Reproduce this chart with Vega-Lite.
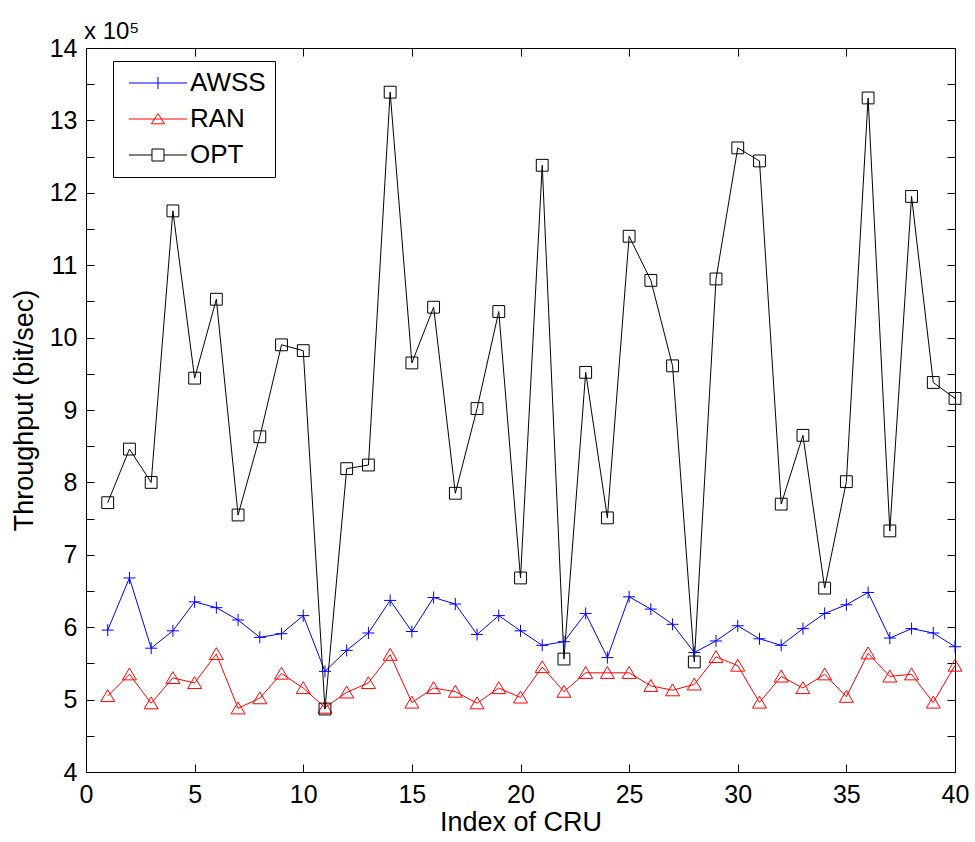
{
  "$schema": "https://vega.github.io/schema/vega-lite/v6.json",
  "width": 869,
  "height": 724,
  "autosize": "none",
  "padding": {"left": 86, "top": 48, "right": 20, "bottom": 70},
  "background": "white",
  "config": {
    "font": "Liberation Sans",
    "view": {"stroke": "black", "strokeWidth": 1},
    "axis": {"grid": false, "domainColor": "black", "tickColor": "black", "labelColor": "black", "titleColor": "black", "labelFont": "Liberation Sans", "titleFont": "Liberation Sans", "titleFontWeight": "normal", "labelFlush": false, "labelOverlap": false, "labelBound": false}
  },
  "title": {"text": "x 10⁵", "anchor": "start", "frame": "group", "fontSize": 24, "fontWeight": "normal", "color": "black", "offset": 0, "dy": 8, "dx": -2, "font": "Liberation Sans"},
  "data": {"values": [
    {"cru":1,"method":"AWSS","throughput":596000},{"cru":2,"method":"AWSS","throughput":668000},{"cru":3,"method":"AWSS","throughput":571000},{"cru":4,"method":"AWSS","throughput":595000},{"cru":5,"method":"AWSS","throughput":635000},{"cru":6,"method":"AWSS","throughput":627000},{"cru":7,"method":"AWSS","throughput":610000},{"cru":8,"method":"AWSS","throughput":586000},{"cru":9,"method":"AWSS","throughput":591000},{"cru":10,"method":"AWSS","throughput":616000},
    {"cru":11,"method":"AWSS","throughput":539000},{"cru":12,"method":"AWSS","throughput":568000},{"cru":13,"method":"AWSS","throughput":592000},{"cru":14,"method":"AWSS","throughput":637000},{"cru":15,"method":"AWSS","throughput":594000},{"cru":16,"method":"AWSS","throughput":641000},{"cru":17,"method":"AWSS","throughput":632000},{"cru":18,"method":"AWSS","throughput":590000},{"cru":19,"method":"AWSS","throughput":616000},{"cru":20,"method":"AWSS","throughput":595000},
    {"cru":21,"method":"AWSS","throughput":575000},{"cru":22,"method":"AWSS","throughput":580000},{"cru":23,"method":"AWSS","throughput":619000},{"cru":24,"method":"AWSS","throughput":558000},{"cru":25,"method":"AWSS","throughput":642000},{"cru":26,"method":"AWSS","throughput":625000},{"cru":27,"method":"AWSS","throughput":604000},{"cru":28,"method":"AWSS","throughput":565000},{"cru":29,"method":"AWSS","throughput":581000},{"cru":30,"method":"AWSS","throughput":602000},
    {"cru":31,"method":"AWSS","throughput":584000},{"cru":32,"method":"AWSS","throughput":575000},{"cru":33,"method":"AWSS","throughput":598000},{"cru":34,"method":"AWSS","throughput":619000},{"cru":35,"method":"AWSS","throughput":631000},{"cru":36,"method":"AWSS","throughput":648000},{"cru":37,"method":"AWSS","throughput":585000},{"cru":38,"method":"AWSS","throughput":598000},{"cru":39,"method":"AWSS","throughput":592000},{"cru":40,"method":"AWSS","throughput":573000},
    {"cru":1,"method":"RAN","throughput":505000},{"cru":2,"method":"RAN","throughput":535000},{"cru":3,"method":"RAN","throughput":495000},{"cru":4,"method":"RAN","throughput":530000},{"cru":5,"method":"RAN","throughput":523000},{"cru":6,"method":"RAN","throughput":563000},{"cru":7,"method":"RAN","throughput":488000},{"cru":8,"method":"RAN","throughput":502000},{"cru":9,"method":"RAN","throughput":536000},{"cru":10,"method":"RAN","throughput":516000},
    {"cru":11,"method":"RAN","throughput":489000},{"cru":12,"method":"RAN","throughput":510000},{"cru":13,"method":"RAN","throughput":523000},{"cru":14,"method":"RAN","throughput":562000},{"cru":15,"method":"RAN","throughput":496000},{"cru":16,"method":"RAN","throughput":516000},{"cru":17,"method":"RAN","throughput":511000},{"cru":18,"method":"RAN","throughput":495000},{"cru":19,"method":"RAN","throughput":516000},{"cru":20,"method":"RAN","throughput":503000},
    {"cru":21,"method":"RAN","throughput":545000},{"cru":22,"method":"RAN","throughput":511000},{"cru":23,"method":"RAN","throughput":537000},{"cru":24,"method":"RAN","throughput":537000},{"cru":25,"method":"RAN","throughput":537000},{"cru":26,"method":"RAN","throughput":519000},{"cru":27,"method":"RAN","throughput":513000},{"cru":28,"method":"RAN","throughput":521000},{"cru":29,"method":"RAN","throughput":559000},{"cru":30,"method":"RAN","throughput":547000},
    {"cru":31,"method":"RAN","throughput":496000},{"cru":32,"method":"RAN","throughput":532000},{"cru":33,"method":"RAN","throughput":516000},{"cru":34,"method":"RAN","throughput":535000},{"cru":35,"method":"RAN","throughput":504000},{"cru":36,"method":"RAN","throughput":564000},{"cru":37,"method":"RAN","throughput":532000},{"cru":38,"method":"RAN","throughput":535000},{"cru":39,"method":"RAN","throughput":496000},{"cru":40,"method":"RAN","throughput":547000},
    {"cru":1,"method":"OPT","throughput":772000},{"cru":2,"method":"OPT","throughput":846000},{"cru":3,"method":"OPT","throughput":800000},{"cru":4,"method":"OPT","throughput":1175000},{"cru":5,"method":"OPT","throughput":944000},{"cru":6,"method":"OPT","throughput":1053000},{"cru":7,"method":"OPT","throughput":755000},{"cru":8,"method":"OPT","throughput":863000},{"cru":9,"method":"OPT","throughput":990000},{"cru":10,"method":"OPT","throughput":982000},
    {"cru":11,"method":"OPT","throughput":487000},{"cru":12,"method":"OPT","throughput":819000},{"cru":13,"method":"OPT","throughput":824000},{"cru":14,"method":"OPT","throughput":1339000},{"cru":15,"method":"OPT","throughput":965000},{"cru":16,"method":"OPT","throughput":1042000},{"cru":17,"method":"OPT","throughput":785000},{"cru":18,"method":"OPT","throughput":902000},{"cru":19,"method":"OPT","throughput":1036000},{"cru":20,"method":"OPT","throughput":668000},
    {"cru":21,"method":"OPT","throughput":1238000},{"cru":22,"method":"OPT","throughput":556000},{"cru":23,"method":"OPT","throughput":952000},{"cru":24,"method":"OPT","throughput":751000},{"cru":25,"method":"OPT","throughput":1140000},{"cru":26,"method":"OPT","throughput":1079000},{"cru":27,"method":"OPT","throughput":961000},{"cru":28,"method":"OPT","throughput":552000},{"cru":29,"method":"OPT","throughput":1081000},{"cru":30,"method":"OPT","throughput":1262000},
    {"cru":31,"method":"OPT","throughput":1244000},{"cru":32,"method":"OPT","throughput":770000},{"cru":33,"method":"OPT","throughput":865000},{"cru":34,"method":"OPT","throughput":654000},{"cru":35,"method":"OPT","throughput":801000},{"cru":36,"method":"OPT","throughput":1331000},{"cru":37,"method":"OPT","throughput":733000},{"cru":38,"method":"OPT","throughput":1195000},{"cru":39,"method":"OPT","throughput":938000},{"cru":40,"method":"OPT","throughput":916000}
  ]},
  "encoding": {
    "x": {"field": "cru", "type": "quantitative", "scale": {"domain": [0, 40], "nice": false, "zero": false}},
    "y": {"field": "throughput", "type": "quantitative", "scale": {"domain": [400000, 1400000], "nice": false, "zero": false}}
  },
  "resolve": {"axis": {"x": "independent", "y": "independent"}},
  "layer": [
    {
      "mark": {"type": "line", "strokeWidth": 1},
      "encoding": {
        "x": {"field": "cru", "type": "quantitative",
          "axis": {"orient": "bottom", "values": [0,5,10,15,20,25,30,35,40], "tickSize": -8, "labelPadding": 18, "labelFontSize": 25, "title": "Index of CRU", "titleFontSize": 27, "titlePadding": 2}},
        "y": {"field": "throughput", "type": "quantitative",
          "axis": {"orient": "left", "values": [400000,450000,500000,550000,600000,650000,700000,750000,800000,850000,900000,950000,1000000,1050000,1100000,1150000,1200000,1250000,1300000,1350000,1400000],
            "labelExpr": "datum.value % 100000 == 0 ? format(datum.value / 100000, 'd') : ''", "tickSize": -8, "labelPadding": 17, "labelFontSize": 25, "title": "Throughput (bit/sec)", "titleFontSize": 27, "titlePadding": 11}},
        "color": {"field": "method", "type": "nominal", "sort": ["AWSS", "RAN", "OPT"],
          "scale": {"domain": ["AWSS", "RAN", "OPT"], "range": ["#0000ff", "#ff0000", "#000000"]},
          "legend": {"orient": "none", "legendX": 27, "legendY": 13, "title": null, "strokeColor": "black", "fillColor": "white", "padding": 9,
            "labelFontSize": 26, "labelColor": "black", "labelFont": "Liberation Sans", "symbolSize": 144, "symbolStrokeWidth": 1, "symbolFillColor": "transparent",
            "rowPadding": 10, "labelOffset": 42, "symbolType": "M-1,0H8.67",
            "encode": {"symbols": {"update": {"fill": {"value": "transparent"}, "shape": {"signal": "datum.value === 'AWSS' ? 'M-1,0H8.67M3.83,-1V1' : datum.value === 'RAN' ? 'M-1,0H8.67M2.73,0.8L3.83,-0.9L4.93,0.8Z' : 'M-1,0H2.83M4.83,0H8.67M2.83,-1H4.83V1H2.83Z'"}}}}}}
      }
    },
    {
      "transform": [{"filter": "datum.method === 'AWSS'"}],
      "mark": {"type": "point", "filled": false, "strokeWidth": 1, "opacity": 1, "color": "#0000ff", "shape": "M-1,0H1M0,-1V1", "size": 144},
      "encoding": {
        "x": {"field": "cru", "type": "quantitative",
          "axis": {"orient": "top", "values": [0,5,10,15,20,25,30,35,40], "tickSize": -8, "labels": false, "title": null, "domain": false}},
        "y": {"field": "throughput", "type": "quantitative",
          "axis": {"orient": "right", "values": [400000,450000,500000,550000,600000,650000,700000,750000,800000,850000,900000,950000,1000000,1050000,1100000,1150000,1200000,1250000,1300000,1350000,1400000], "tickSize": -8, "labels": false, "title": null, "domain": false}}
      }
    },
    {
      "transform": [{"filter": "datum.method === 'RAN'"}],
      "mark": {"type": "point", "filled": false, "strokeWidth": 1, "opacity": 1, "color": "#ff0000", "shape": "M-1,0.8L0,-0.9L1,0.8Z", "size": 196},
      "encoding": {
        "x": {"field": "cru", "type": "quantitative", "axis": null},
        "y": {"field": "throughput", "type": "quantitative", "axis": null}
      }
    },
    {
      "transform": [{"filter": "datum.method === 'OPT'"}],
      "mark": {"type": "point", "filled": false, "strokeWidth": 1, "opacity": 1, "color": "#000000", "shape": "square", "size": 140},
      "encoding": {
        "x": {"field": "cru", "type": "quantitative", "axis": null},
        "y": {"field": "throughput", "type": "quantitative", "axis": null}
      }
    }
  ]
}
